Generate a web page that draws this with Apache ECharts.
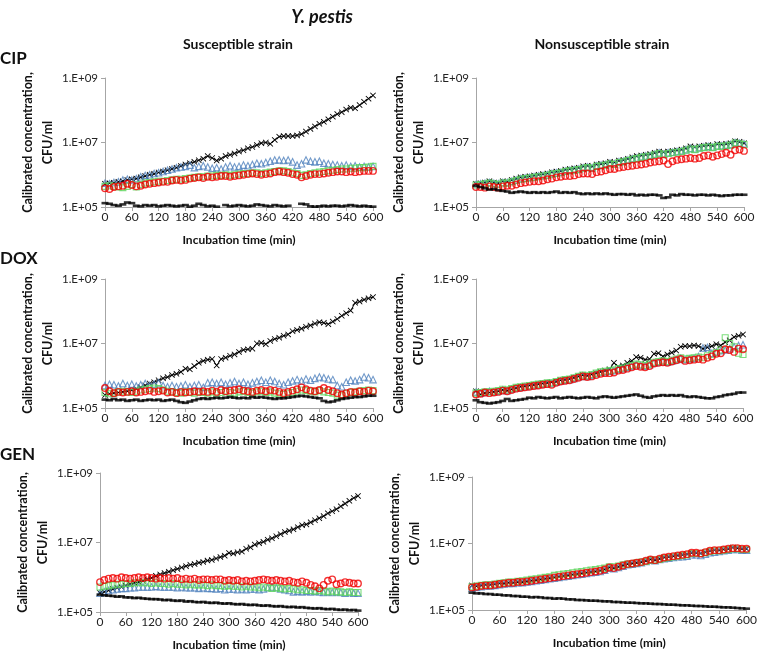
<!DOCTYPE html>
<html>
<head>
<meta charset="utf-8">
<script src="https://cdn.jsdelivr.net/npm/echarts@6/dist/echarts.min.js"></script>
<style>html,body{margin:0;padding:0;background:#fff;}#c{width:760px;height:653px;}</style>
</head>
<body>
<div id="c"></div>
<script>
// Incubation time (min)
const times = [0,10,20,30,40,50,60,70,80,90,100,110,120,130,140,150,160,170,180,190,200,210,220,230,240,250,260,270,280,290,300,310,320,330,340,350,360,370,380,390,400,410,420,430,440,450,460,470,480,490,500,510,520,530,540,550,560,570,580,590,600];
const yTicks = [1e5, 1e7, 1e9];
const xTicks = [0,60,120,180,240,300,360,420,480,540,600];
const rowLabels = ['CIP','DOX','GEN'];
const colLabels = ['Susceptible strain','Nonsusceptible strain'];

// Values: log10(calibrated concentration, CFU/ml)
// CIP, susceptible
const cipS_cross = [5.72,5.74,5.75,5.78,5.80,5.84,5.86,5.88,5.92,5.96,6.00,6.03,6.07,6.10,6.14,6.18,6.22,6.27,6.32,6.36,6.40,6.45,6.50,6.58,6.52,6.44,6.50,6.58,6.62,6.66,6.72,6.76,6.82,6.86,6.92,6.98,7.00,6.96,7.08,7.18,7.20,7.20,7.20,7.22,7.26,7.34,7.42,7.50,7.58,7.64,7.72,7.80,7.88,7.94,8.02,8.08,8.06,8.16,8.26,8.36,8.46];
const cipS_tri = [5.74,5.72,5.76,5.78,5.84,5.86,5.84,5.88,5.94,5.98,6.00,6.04,6.06,6.10,6.14,6.18,6.22,6.24,6.26,6.30,6.22,6.26,6.28,6.24,6.20,6.22,6.18,6.24,6.28,6.24,6.26,6.30,6.28,6.32,6.36,6.34,6.38,6.42,6.46,6.46,6.44,6.46,6.40,6.30,6.34,6.46,6.42,6.40,6.42,6.36,6.34,6.32,6.30,6.28,6.30,6.26,6.28,6.24,6.26,6.24,6.26];
const cipS_sq = [5.64,5.66,5.64,5.62,5.60,5.64,5.70,5.62,5.70,5.74,5.76,5.78,5.80,5.80,5.82,5.84,5.86,5.86,5.88,5.90,5.92,5.94,5.94,5.96,5.96,5.98,5.98,6.00,5.98,6.00,6.02,6.04,6.04,6.06,6.06,6.04,6.06,6.08,6.10,6.12,6.12,6.10,6.06,6.04,5.98,6.00,6.04,6.06,6.08,6.10,6.12,6.14,6.16,6.18,6.18,6.20,6.20,6.22,6.22,6.24,6.26];
const cipS_circ = [5.58,5.56,5.62,5.64,5.66,5.72,5.68,5.64,5.66,5.70,5.72,5.74,5.76,5.78,5.78,5.82,5.84,5.82,5.84,5.88,5.90,5.92,5.90,5.94,5.92,5.94,5.96,5.96,5.94,5.96,5.98,6.00,6.02,6.04,6.02,6.00,6.02,6.04,6.08,6.10,6.08,6.06,6.02,6.00,5.92,5.96,6.00,6.02,6.02,6.04,6.06,6.08,6.10,6.10,6.08,6.10,6.08,6.10,6.12,6.12,6.12];
const cipS_dash = [5.12,5.10,5.06,5.04,5.08,5.14,5.12,5.04,5.02,5.06,5.04,5.06,5.02,5.04,5.06,5.04,5.02,5.04,5.06,5.01,5.04,5.10,5.06,5.02,5.04,5.01,null,5.06,5.02,5.04,5.06,5.04,5.02,5.04,5.08,5.06,5.04,5.02,5.06,5.04,5.02,5.04,null,null,5.10,5.08,5.02,5.01,5.02,5.04,5.02,5.04,5.04,5.02,5.04,5.06,5.04,5.02,5.04,5.02,5.01];
// CIP, nonsusceptible
const cipN_cross = [5.72,5.74,5.76,5.80,5.76,5.74,5.80,5.78,5.84,5.88,5.92,5.94,5.95,5.98,6.00,6.02,6.04,6.08,6.10,6.12,6.16,6.18,6.20,6.22,6.26,6.28,6.26,6.32,6.34,6.36,6.40,6.38,6.44,6.46,6.50,6.54,6.58,6.60,6.62,6.64,6.68,6.72,6.70,6.72,6.74,6.76,6.78,6.82,6.88,6.86,6.88,6.90,6.92,6.90,6.95,6.94,6.96,6.98,7.04,7.02,6.98];
const cipN_tri = [5.70,5.72,5.74,5.76,5.74,5.72,5.76,5.76,5.80,5.84,5.88,5.90,5.92,5.94,5.96,5.98,6.00,6.04,6.06,6.08,6.12,6.14,6.16,6.18,6.22,6.24,6.22,6.28,6.30,6.32,6.36,6.34,6.40,6.42,6.46,6.50,6.52,6.56,6.58,6.60,6.64,6.68,6.64,6.68,6.70,6.72,6.74,6.78,6.82,6.80,6.84,6.86,6.88,6.86,6.90,6.90,6.92,6.94,7.00,6.98,6.96];
const cipN_sq = [5.68,5.70,5.72,5.74,5.72,5.70,5.74,5.74,5.78,5.82,5.86,5.88,5.90,5.92,5.94,5.96,5.98,6.02,6.04,6.06,6.10,6.12,6.14,6.16,6.20,6.22,6.20,6.26,6.28,6.30,6.34,6.32,6.38,6.40,6.44,6.48,6.50,6.54,6.56,6.58,6.62,6.66,6.62,6.66,6.68,6.70,6.72,6.76,6.80,6.78,6.82,6.84,6.86,6.84,6.88,6.88,6.90,6.92,6.98,6.96,6.94];
const cipN_circ = [5.62,5.62,5.60,5.64,5.62,5.60,5.64,5.66,5.66,5.70,5.74,5.76,5.78,5.80,5.80,5.82,5.86,5.88,5.92,5.94,5.96,5.96,5.98,6.02,6.04,6.04,6.02,6.08,6.10,6.14,6.18,6.18,6.22,6.24,6.26,6.28,6.30,6.32,6.34,6.38,6.40,6.42,6.44,6.33,6.42,6.46,6.48,6.50,6.52,6.50,6.52,6.58,6.60,6.56,6.60,6.64,6.68,6.62,6.76,6.78,6.74];
const cipN_dash = [5.66,5.62,5.58,5.54,5.56,5.52,5.50,5.48,5.44,5.46,5.48,5.46,5.44,5.46,5.44,5.46,5.44,5.46,5.48,5.44,5.46,5.44,5.46,5.42,5.40,5.42,5.40,5.42,5.40,5.42,5.40,5.38,5.40,5.40,5.38,5.40,5.36,5.38,5.36,5.38,5.38,5.36,5.28,5.30,5.38,5.36,5.40,5.38,5.38,5.36,5.38,5.38,5.36,5.38,5.36,5.34,5.36,5.36,5.38,5.38,5.38];
// DOX, susceptible
const doxS_cross = [5.40,5.44,5.46,5.48,5.50,5.52,5.56,5.60,5.64,5.70,5.76,5.80,5.86,5.92,5.96,6.02,6.06,6.12,6.22,6.20,6.30,6.40,6.46,6.50,6.52,6.32,6.52,6.56,6.62,6.66,6.74,6.80,6.82,6.84,7.00,7.02,6.98,7.08,7.14,7.18,7.24,7.28,7.38,7.42,7.46,7.52,7.56,7.62,7.66,7.64,7.60,7.68,7.76,7.86,7.94,8.02,8.26,8.30,8.36,8.40,8.44];
const doxS_tri = [5.70,5.74,5.72,5.68,5.76,5.70,5.74,5.68,5.72,5.76,5.70,5.74,5.78,5.70,5.66,5.70,5.66,5.68,5.72,5.66,5.70,5.72,5.64,5.78,5.80,5.76,5.80,5.74,5.78,5.82,5.76,5.80,5.74,5.78,5.82,5.86,5.80,5.86,5.82,5.76,5.72,5.80,5.84,5.88,5.84,5.90,5.86,5.92,5.96,5.94,5.90,5.88,5.70,5.66,5.80,5.86,5.84,5.88,5.96,5.94,5.88];
const doxS_sq = [5.48,5.44,5.46,5.50,5.52,5.50,5.48,5.52,5.56,5.58,5.60,5.62,5.60,5.56,5.52,5.50,5.48,5.46,5.50,5.48,5.46,5.50,5.48,5.46,5.50,5.46,5.48,5.52,5.48,5.46,5.50,5.52,5.48,5.46,5.50,5.52,5.48,5.50,5.46,5.44,5.42,5.46,5.48,5.52,5.56,5.54,5.52,5.50,5.54,5.50,5.48,5.46,5.40,5.38,5.44,5.48,5.50,5.52,5.54,5.56,5.54];
const doxS_circ = [5.62,5.52,5.46,5.50,5.48,5.50,5.52,5.48,5.50,5.52,5.54,5.50,5.52,5.54,5.48,5.50,5.46,5.50,5.48,5.50,5.52,5.50,5.52,5.50,5.54,5.50,5.56,5.52,5.54,5.56,5.58,5.54,5.52,5.50,5.54,5.56,5.52,5.56,5.54,5.50,5.46,5.50,5.54,5.58,5.64,5.58,5.54,5.52,5.56,5.62,5.56,5.52,5.46,5.42,5.46,5.50,5.48,5.52,5.50,5.54,5.52];
const doxS_dash = [5.26,5.24,5.28,5.24,5.26,5.22,5.24,5.26,5.22,5.24,5.26,5.24,5.26,5.22,5.24,5.26,5.22,5.18,5.16,5.20,5.24,5.28,5.30,5.28,5.30,5.32,5.30,5.32,5.34,5.32,5.30,5.32,5.30,5.34,5.32,5.34,5.32,5.30,5.28,5.30,5.30,5.32,5.34,5.36,5.38,5.36,5.34,5.32,5.30,5.22,5.18,5.20,5.24,5.28,5.30,5.32,5.34,5.34,5.36,5.38,5.38];
// DOX, nonsusceptible
const doxN_cross = [5.52,5.42,5.46,5.48,5.50,5.52,5.56,5.54,5.58,5.62,5.66,5.68,5.70,5.72,5.74,5.76,5.78,5.80,5.82,5.86,5.88,5.90,5.94,5.98,6.02,6.00,6.04,6.08,6.12,6.16,6.20,6.40,6.28,6.32,6.40,6.46,6.58,6.56,6.50,6.52,6.68,6.70,6.60,6.66,6.72,6.78,6.90,6.92,6.92,6.94,6.92,6.84,6.88,6.92,6.98,6.94,7.04,7.10,7.20,7.24,7.28];
const doxN_tri = [5.50,5.46,5.48,5.52,5.50,5.52,5.56,5.54,5.58,5.62,5.64,5.66,5.68,5.70,5.72,5.74,5.76,5.76,5.80,5.84,5.86,5.88,5.92,5.96,6.00,5.98,6.02,6.06,6.10,6.12,6.14,6.16,6.20,6.22,6.26,6.30,6.34,6.32,6.30,6.34,6.40,6.42,6.44,6.42,6.46,6.50,6.54,6.50,6.52,6.54,6.60,6.86,6.88,6.70,6.74,6.78,6.80,6.84,6.90,6.94,6.96];
const doxN_sq = [5.46,5.48,5.50,5.50,5.52,5.54,5.58,5.56,5.60,5.64,5.66,5.68,5.70,5.72,5.74,5.76,5.78,5.78,5.82,5.86,5.88,5.90,5.94,5.98,6.02,6.00,6.04,6.08,6.12,6.14,6.16,6.18,6.22,6.24,6.28,6.32,6.36,6.34,6.32,6.36,6.42,6.44,6.46,6.44,6.48,6.52,6.56,6.52,6.54,6.56,6.58,6.56,6.62,6.66,6.72,6.80,7.18,7.00,6.90,6.70,6.66];
const doxN_circ = [5.42,5.44,5.48,5.46,5.48,5.50,5.54,5.52,5.56,5.60,5.62,5.64,5.66,5.68,5.70,5.72,5.74,5.72,5.78,5.82,5.84,5.86,5.90,5.94,5.98,5.96,5.98,6.02,6.06,6.08,6.08,6.10,6.16,6.18,6.22,6.26,6.30,6.28,6.26,6.30,6.38,6.40,6.42,6.40,6.44,6.48,6.52,6.46,6.48,6.50,6.52,6.50,6.56,6.60,6.68,6.70,6.82,6.80,6.74,6.84,6.82];
const doxN_dash = [5.24,5.18,5.16,5.14,5.16,5.18,5.22,5.28,5.22,5.24,5.26,5.28,5.32,5.30,5.34,5.32,5.30,5.32,5.34,5.30,5.32,5.34,5.32,5.30,5.32,5.34,5.32,5.30,5.34,5.36,5.34,5.32,5.34,5.36,5.38,5.40,5.42,5.38,5.34,5.32,5.36,5.38,5.40,5.38,5.40,5.38,5.40,5.36,5.34,5.36,5.34,5.32,5.30,5.30,5.34,5.36,5.40,5.42,5.44,5.48,5.48];
// GEN, susceptible
const genS_cross = [5.55,5.58,5.62,5.66,5.70,5.72,5.76,5.80,5.84,5.86,5.90,5.94,5.98,6.04,6.08,6.12,6.16,6.20,6.24,6.28,6.32,6.36,6.38,6.42,6.44,6.48,6.50,6.54,6.58,6.62,6.70,6.68,6.72,6.74,6.82,6.86,6.94,6.98,7.02,7.08,7.12,7.18,7.24,7.30,7.34,7.38,7.44,7.50,7.52,7.58,7.64,7.70,7.76,7.84,7.90,7.96,8.04,8.12,8.20,8.28,8.34];
const genS_tri = [5.54,5.58,5.62,5.64,5.66,5.68,5.68,5.70,5.70,5.72,5.72,5.72,5.72,5.74,5.72,5.72,5.72,5.72,5.70,5.72,5.70,5.70,5.70,5.68,5.70,5.68,5.68,5.66,5.68,5.64,5.66,5.66,5.64,5.66,5.64,5.66,5.66,5.64,5.66,5.70,5.72,5.70,5.66,5.64,5.62,5.58,5.60,5.58,5.60,5.58,5.60,5.58,5.56,5.58,5.56,5.58,5.56,5.54,5.56,5.54,5.54];
const genS_sq = [5.72,5.74,5.76,5.78,5.80,5.80,5.82,5.82,5.84,5.84,5.84,5.84,5.82,5.84,5.82,5.82,5.80,5.82,5.80,5.80,5.78,5.80,5.78,5.78,5.78,5.76,5.78,5.76,5.76,5.74,5.76,5.74,5.74,5.72,5.74,5.72,5.72,5.70,5.72,5.70,5.68,5.70,5.68,5.66,5.68,5.66,5.64,5.64,5.62,5.62,5.60,5.62,5.60,5.58,5.60,5.58,5.58,5.56,5.58,5.56,5.56];
const genS_circ = [5.86,5.92,5.96,5.98,5.96,6.00,5.98,5.96,5.98,6.00,5.98,6.00,5.98,5.96,5.98,5.96,5.98,5.96,5.98,5.94,5.96,5.94,5.96,5.92,5.94,5.94,5.92,5.94,5.94,5.90,5.92,5.90,5.92,5.88,5.90,5.88,5.90,5.92,5.94,5.92,5.90,5.92,5.90,5.88,5.90,5.86,5.84,5.88,5.84,5.78,5.74,5.68,5.78,5.90,5.94,5.80,5.82,5.86,5.84,5.82,5.82];
const genS_dash = [5.50,5.48,5.47,5.46,5.44,5.45,5.42,5.42,5.40,5.41,5.39,5.38,5.37,5.37,5.36,5.34,5.35,5.33,5.32,5.33,5.30,5.31,5.29,5.28,5.29,5.27,5.26,5.27,5.25,5.24,5.25,5.23,5.22,5.23,5.21,5.20,5.21,5.19,5.18,5.19,5.17,5.16,5.17,5.15,5.14,5.15,5.13,5.14,5.12,5.11,5.10,5.11,5.09,5.08,5.09,5.07,5.06,5.07,5.05,5.06,5.04];
// GEN, nonsusceptible
const genN_cross = [5.74,5.72,5.74,5.76,5.76,5.78,5.80,5.80,5.82,5.82,5.84,5.84,5.86,5.88,5.90,5.92,5.94,5.96,5.98,6.00,6.02,6.04,6.06,6.08,6.10,6.12,6.14,6.16,6.18,6.22,6.28,6.26,6.30,6.34,6.38,6.40,6.42,6.44,6.48,6.52,6.50,6.54,6.58,6.60,6.62,6.64,6.66,6.68,6.72,6.72,6.70,6.74,6.78,6.80,6.80,6.82,6.84,6.88,6.86,6.84,6.84];
const genN_tri = [5.66,5.68,5.70,5.72,5.72,5.74,5.76,5.78,5.80,5.80,5.82,5.82,5.84,5.86,5.88,5.90,5.92,5.94,5.96,5.98,6.00,6.02,6.04,6.06,6.08,6.10,6.12,6.14,6.16,6.20,6.26,6.24,6.28,6.32,6.36,6.38,6.40,6.42,6.46,6.50,6.48,6.52,6.54,6.56,6.58,6.60,6.60,6.62,6.66,6.66,6.64,6.68,6.72,6.74,6.76,6.78,6.80,6.82,6.82,6.80,6.80];
const genN_sq = [5.70,5.72,5.74,5.76,5.76,5.78,5.80,5.82,5.84,5.84,5.86,5.88,5.90,5.92,5.94,5.96,5.98,6.00,6.04,6.06,6.08,6.10,6.12,6.14,6.16,6.18,6.20,6.22,6.24,6.26,6.30,6.30,6.32,6.36,6.38,6.40,6.42,6.44,6.46,6.50,6.50,6.52,6.56,6.58,6.60,6.62,6.64,6.66,6.70,6.70,6.70,6.72,6.76,6.78,6.78,6.80,6.82,6.84,6.84,6.82,6.82];
const genN_circ = [5.68,5.70,5.72,5.74,5.74,5.76,5.78,5.80,5.82,5.82,5.84,5.84,5.86,5.88,5.90,5.92,5.94,5.96,5.98,6.00,6.02,6.04,6.06,6.08,6.10,6.12,6.14,6.16,6.18,6.22,6.28,6.26,6.30,6.34,6.38,6.40,6.42,6.44,6.48,6.52,6.50,6.54,6.58,6.60,6.62,6.64,6.66,6.68,6.72,6.72,6.70,6.74,6.78,6.80,6.80,6.82,6.84,6.86,6.86,6.84,6.84];
const genN_dash = [5.52,5.50,5.50,5.48,5.48,5.46,5.46,5.44,5.44,5.42,5.42,5.40,5.40,5.38,5.39,5.38,5.36,5.36,5.34,5.35,5.34,5.32,5.32,5.30,5.30,5.29,5.28,5.28,5.27,5.26,5.26,5.24,5.24,5.23,5.22,5.22,5.21,5.20,5.20,5.19,5.18,5.18,5.17,5.16,5.16,5.15,5.14,5.14,5.13,5.12,5.12,5.11,5.10,5.10,5.09,5.08,5.08,5.07,5.06,5.05,5.04];

const panels = [
  {cross: cipS_cross, tri: cipS_tri, sq: cipS_sq, circ: cipS_circ, dash: cipS_dash},
  {cross: cipN_cross, tri: cipN_tri, sq: cipN_sq, circ: cipN_circ, dash: cipN_dash},
  {cross: doxS_cross, tri: doxS_tri, sq: doxS_sq, circ: doxS_circ, dash: doxS_dash},
  {cross: doxN_cross, tri: doxN_tri, sq: doxN_sq, circ: doxN_circ, dash: doxN_dash},
  {cross: genS_cross, tri: genS_tri, sq: genS_sq, circ: genS_circ, dash: genS_dash},
  {cross: genN_cross, tri: genN_tri, sq: genN_sq, circ: genN_circ, dash: genN_dash}
];

// ---- layout / style (not data) ----
const FONT = 'Lato, "Open Sans", sans-serif';
const gridBoxes = [
  {left:105, top:78, width:268, height:129},
  {left:476, top:78, width:268, height:129},
  {left:105, top:279, width:268, height:129},
  {left:476, top:279, width:267, height:129},
  {left:100, top:473, width:258, height:139},
  {left:472, top:477, width:278, height:133}
];
const crossPath = 'path://M0,1L1,0L5,4L9,0L10,1L6,5L10,9L9,10L5,6L1,10L0,9L4,5Z';
const toPairs = arr => arr.map((v, i) => [times[i], v == null ? null : Math.pow(10, v)]);

const grid = [], xAxis = [], yAxis = [], series = [];
gridBoxes.forEach((g, i) => {
  grid.push(Object.assign({containLabel:false}, g));
  xAxis.push({
    type:'value', gridIndex:i, min:0, max:600, interval:60,
    axisLine:{show:true, lineStyle:{color:'#A6A6A6', width:1}},
    axisTick:{show:true, length:4, lineStyle:{color:'#A6A6A6'}},
    splitLine:{show:false},
    axisLabel:{fontFamily:FONT, fontSize:12, color:'#222', margin:4, customValues:xTicks},
    name:'Incubation time (min)', nameLocation:'middle', nameGap:27,
    nameTextStyle:{fontFamily:FONT, fontSize:12, fontWeight:'bold', color:'#111'}
  });
  yAxis.push({
    type:'log', logBase:10, gridIndex:i, min:1e5, max:1e9,
    axisLine:{show:true, lineStyle:{color:'#A6A6A6', width:1}},
    axisTick:{show:true, length:4, lineStyle:{color:'#A6A6A6'}, customValues:yTicks},
    splitLine:{show:false},
    axisLabel:{fontFamily:FONT, fontSize:11.5, color:'#222', margin:7, customValues:yTicks,
      formatter: v => { const e = Math.round(Math.log10(v)); return '1.E+' + (e < 10 ? '0' + e : e); }},
    name:'Calibrated concentration,\nCFU/ml', nameLocation:'middle', nameGap:40, nameRotate:90,
    nameTextStyle:{fontFamily:FONT, fontSize:12.5, fontWeight:'bold', color:'#111', lineHeight:20, align:'center'}
  });
  const p = panels[i];
  series.push({
    type:'line', xAxisIndex:i, yAxisIndex:i, data:toPairs(p.cross), symbol:crossPath, symbolSize:6,
    showSymbol:true, connectNulls:false, lineStyle:{color:'#000', width:1}, itemStyle:{color:'#000'}, z:2, animation:false
  });
  series.push({
    type:'scatter', xAxisIndex:i, yAxisIndex:i, data:toPairs(p.tri), symbol:'triangle', symbolSize:6.5,
    itemStyle:{color:'rgba(0,0,0,0)', borderColor:'#4F81BD', borderWidth:1.1}, z:3, animation:false
  });
  series.push({
    type:'scatter', xAxisIndex:i, yAxisIndex:i, data:toPairs(p.sq), symbol:'rect', symbolSize:6,
    itemStyle:{color:'rgba(0,0,0,0)', borderColor:'#5CD65C', borderWidth:1.1}, z:4, animation:false
  });
  series.push({
    type:'scatter', xAxisIndex:i, yAxisIndex:i, data:toPairs(p.circ), symbol:'circle', symbolSize:6.5,
    itemStyle:{color:'rgba(0,0,0,0)', borderColor:'#F00000', borderWidth:1.4}, z:5, animation:false
  });
  series.push({
    type:'scatter', xAxisIndex:i, yAxisIndex:i, data:toPairs(p.dash), symbol:'rect', symbolSize:[7,2.6],
    itemStyle:{color:'#000'}, z:6, animation:false
  });
});

const title = [
  {text:'Y. pestis', left:322, top:8, textAlign:'center',
   textStyle:{fontFamily:FONT, fontSize:18, fontWeight:'bold', fontStyle:'italic', color:'#111'}},
  {text:colLabels[0], left:238, top:37, textAlign:'center',
   textStyle:{fontFamily:FONT, fontSize:14, fontWeight:'bold', color:'#111'}},
  {text:colLabels[1], left:602, top:37, textAlign:'center',
   textStyle:{fontFamily:FONT, fontSize:14, fontWeight:'bold', color:'#111'}},
  {text:rowLabels[0], left:0, top:50, textStyle:{fontFamily:FONT, fontSize:17, fontWeight:'bold', color:'#111'}},
  {text:rowLabels[1], left:0, top:250, textStyle:{fontFamily:FONT, fontSize:17, fontWeight:'bold', color:'#111'}},
  {text:rowLabels[2], left:0, top:446, textStyle:{fontFamily:FONT, fontSize:17, fontWeight:'bold', color:'#111'}}
];
title.forEach(t => { t.padding = 0; });

const chart = echarts.init(document.getElementById('c'), null, {renderer:'canvas'});
chart.setOption({backgroundColor:'#fff', animation:false, title, grid, xAxis, yAxis, series});
</script>
</body>
</html>
